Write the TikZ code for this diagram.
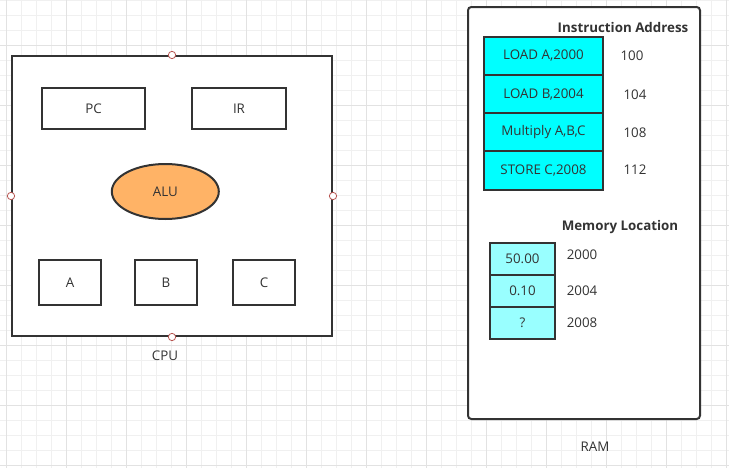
\documentclass[tikz,border=0pt]{standalone}
\usepackage{fontspec}
\setmainfont{Open Sans}
\usetikzlibrary{shapes.geometric}
\definecolor{ink}{HTML}{333333}
\definecolor{gridminor}{HTML}{F0F0F0}
\definecolor{gridmajor}{HTML}{E2E2E2}
\definecolor{alufill}{HTML}{FFB366}
\definecolor{instfill}{HTML}{00FFFF}
\definecolor{memfill}{HTML}{99FFFF}
\definecolor{handle}{HTML}{B85450}
\begin{document}
\begin{tikzpicture}[x=0.75pt,y=-0.75pt,
  every node/.style={font=\fontsize{10}{12}\selectfont, text=ink},
  box/.style={draw=ink, line width=1.5pt, fill=white, inner sep=0pt},
  cell/.style={draw=ink, line width=1.5pt, inner sep=0pt},
  handlept/.style={circle, draw=handle, fill=white, line width=0.6pt, minimum size=5.5pt, inner sep=0pt},
  plain/.style={inner sep=0pt},
  heading/.style={inner sep=0pt, font=\fontsize{10}{12}\selectfont\bfseries}]
\useasboundingbox (0,0) rectangle (729,468);
\fill[white] (0,0) rectangle (729,468);
% grid
\foreach \i in {0,...,48} {
  \draw[gridminor, line width=0.75pt] ({6.7+15*\i},0) -- ({6.7+15*\i},468);
}
\foreach \i in {0,...,31} {
  \draw[gridminor, line width=0.75pt] (0,{0.7+15*\i}) -- (729,{0.7+15*\i});
}
\foreach \i in {0,...,12} {
  \draw[gridmajor, line width=0.75pt] ({6.7+60*\i},0) -- ({6.7+60*\i},468);
}
\foreach \i in {0,...,7} {
  \draw[gridmajor, line width=0.75pt] (0,{45.7+60*\i}) -- (729,{45.7+60*\i});
}
% CPU
\node[box, minimum width=240pt, minimum height=210pt] (cpu) at (172,196) {};
\node[box, minimum width=77.25pt, minimum height=30.75pt] (pc) at (93.5,108.5) {PC};
\node[box, minimum width=70.5pt, minimum height=30.75pt] (ir) at (239,108.5) {IR};
\node[ellipse, draw=ink, line width=1.5pt, fill=alufill, inner sep=0pt,
      minimum width=80.25pt, minimum height=41.25pt] (alu) at (165.3,191.5) {ALU};
\node[box, minimum width=46.5pt, minimum height=33.75pt] (ra) at (70,282.5) {A};
\node[box, minimum width=46.5pt, minimum height=33.75pt] (rb) at (166,282.5) {B};
\node[box, minimum width=46.5pt, minimum height=33.75pt] (rc) at (264,282.5) {C};
\node[handlept] (hn) at (cpu.north) {};
\node[handlept] (hs) at (cpu.south) {};
\node[handlept] (hw) at (cpu.west) {};
\node[handlept] (he) at (cpu.east) {};
\node[plain] (cpulabel) at (165,355.5) {CPU};
% RAM
\node[box, rounded corners=2.5pt, minimum width=174pt, minimum height=309pt] (ram) at (584,213) {};
\node[heading] (insthead) at (623,27) {Instruction Address};
\node[cell, fill=instfill, minimum width=89.25pt, minimum height=28.7pt] (i1) at (543.5,55.8) {LOAD A,2000};
\node[cell, fill=instfill, minimum width=89.25pt, minimum height=28.7pt] (i2) at (543.5,94.1) {LOAD B,2004};
\node[cell, fill=instfill, minimum width=89.25pt, minimum height=28.7pt] (i3) at (543.5,132.4) {Multiply A,B,C};
\node[cell, fill=instfill, minimum width=89.25pt, minimum height=28.7pt] (i4) at (543.5,170.5) {STORE C,2008};
\node[plain] (a1) at (632,56) {100};
\node[plain] (a2) at (635,95) {104};
\node[plain] (a3) at (635,133) {108};
\node[plain] (a4) at (635,170) {112};
\node[heading] (memhead) at (620,227) {Memory Location};
\node[cell, fill=memfill, minimum width=48.75pt, minimum height=24.25pt] (m1) at (522.5,258.9) {50.00};
\node[cell, fill=memfill, minimum width=48.75pt, minimum height=24.25pt] (m2) at (522.5,291.2) {0.10};
\node[cell, fill=memfill, minimum width=48.75pt, minimum height=24.25pt] (m3) at (522.5,323.2) {?};
\node[plain] (l1) at (582,255) {2000};
\node[plain] (l2) at (582,291) {2004};
\node[plain] (l3) at (582,323) {2008};
\node[plain] (ramlabel) at (595,447) {RAM};
\end{tikzpicture}
\end{document}
